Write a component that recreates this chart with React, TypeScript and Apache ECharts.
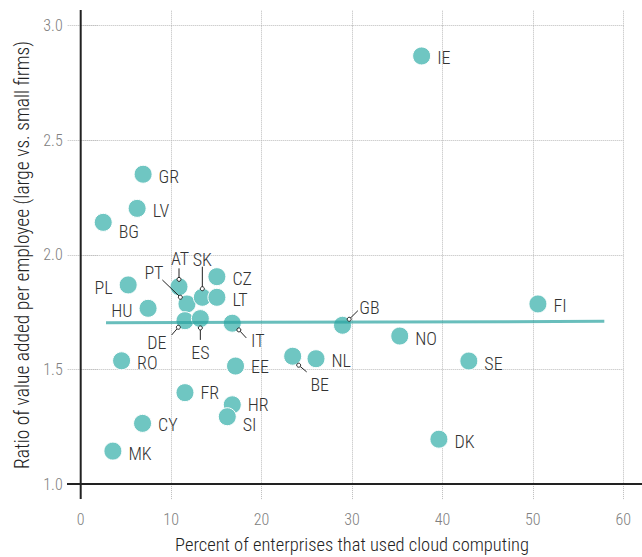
import React, { useEffect, useRef } from "react";
import * as echarts from "echarts";

const countries = ["IE","GR","LV","BG","PL","HU","AT","PT","SK","CZ","LT","DE","ES","IT","RO","EE","FR","HR","SI","CY","MK","GB","NO","BE","NL","SE","FI","DK"];
const cloudShare = [37.7,6.9,6.24,2.49,5.25,7.45,10.87,11.75,13.45,15.06,15.06,11.53,13.23,16.76,4.52,17.12,11.53,16.76,16.21,6.84,3.56,28.95,35.28,23.44,26.02,42.92,50.56,39.61];
const valueRatio = [2.868,2.352,2.203,2.142,1.869,1.767,1.861,1.786,1.815,1.905,1.815,1.713,1.722,1.702,1.538,1.515,1.399,1.346,1.294,1.265,1.144,1.693,1.646,1.558,1.547,1.537,1.786,1.196];
const trendX = [2.8, 57.9];
const trendY = [1.704, 1.71];
const xTicks = [0, 10, 20, 30, 40, 50, 60];
const yTicks = [1.0, 1.5, 2.0, 2.5, 3.0];

// label placement (styling): label offset and leader line [cx, cy, ex, ey]
const leaderLabels: Record<string, { off: number[]; line: number[] }> = {
  AT: { off: [1, -28.4], line: [0, -7.4, 0, -18.4] },
  SK: { off: [0, -38], line: [0, -8.6, 0, -30.6] },
  PT: { off: [-33, -31], line: [-6.6, -6.7, -24.6, -24] },
  DE: { off: [-28, 22], line: [-6.6, 6.6, -13.3, 14.3] },
  ES: { off: [0, 34], line: [0, 9.3, 0, 21.3] },
  IT: { off: [25.6, 17.4], line: [6.6, 6.7, 14, 14.7] },
  GB: { off: [27, -18], line: [6.7, -6, 15.4, -14.6] },
  BE: { off: [27, 28], line: [6, 9, 14, 15.7] },
};
// labels placed left of the point, and extra vertical shifts
const leftLabels = ["PL", "HU"];
const labelDy: Record<string, number> = { BG: 9, SI: 8, HR: 0, FR: 0, EE: 0.5, CY: 1 };

const FONT = "'Roboto Condensed', Roboto, sans-serif";

export default function App() {
  const ref = useRef<HTMLDivElement>(null);
  useEffect(() => {
    if (!ref.current) return;
    const chart = echarts.init(ref.current, undefined, { renderer: "svg" });
    const pointData = countries.map((c, i) => {
      const item: any = { name: c, value: [cloudShare[i], valueRatio[i]] };
      const ll = leaderLabels[c];
      if (ll) {
        item.label = { position: "inside", offset: ll.off, distance: 0 };
      } else if (leftLabels.includes(c)) {
        item.label = { position: "left", offset: [0, 2.5] };
      } else if (labelDy[c] !== undefined) {
        item.label = { offset: [0, labelDy[c]] };
      }
      return item;
    });
    const leaderData = countries
      .map((c, i) => ({ name: c, value: [cloudShare[i], valueRatio[i]] }))
      .filter((d) => leaderLabels[d.name]);

    const gridLeft = 80.7;
    const gridTop = 25.7;
    const gridRight = 18.7;
    const gridBottom = 72.9;
    const W = 642, H = 557;
    const axisBase = H - gridBottom;
    const dotted = { color: "#bbb", type: "dotted", width: 1 };

    const option: any = {
      animation: false,
      textStyle: { fontFamily: FONT, fontWeight: 300 },
      grid: { left: gridLeft, right: gridRight, top: gridTop, bottom: gridBottom, containLabel: false, outerBoundsMode: "none" },
      xAxis: [
        {
          type: "value",
          position: "bottom",
          min: xTicks[0],
          max: xTicks[xTicks.length - 1],
          interval: 10,
          name: "Percent of enterprises that used cloud computing",
          nameLocation: "middle",
          nameGap: 51,
          nameTextStyle: { fontSize: 18.5, color: "#222", fontFamily: FONT, fontWeight: 300 },
          axisLine: { show: false },
          axisTick: { show: true, length: 15, lineStyle: dotted },
          axisLabel: { color: "#808080", fontSize: 16, margin: 27, fontFamily: FONT, fontWeight: 300 },
          splitLine: { show: true, lineStyle: dotted },
        },
        {
          type: "value",
          position: "top",
          min: xTicks[0],
          max: xTicks[xTicks.length - 1],
          interval: 10,
          axisLine: { show: false },
          axisTick: { show: true, length: 16, lineStyle: dotted },
          axisLabel: { show: false },
          splitLine: { show: false },
        },
      ],
      yAxis: [
        {
          type: "value",
          position: "left",
          min: yTicks[0],
          max: yTicks[yTicks.length - 1],
          interval: 0.5,
          name: "Ratio of value added per employee (large vs. small firms)",
          nameLocation: "middle",
          nameGap: 38,
          nameTextStyle: { fontSize: 19.5, color: "#222", fontFamily: FONT, fontWeight: 300 },
          axisLine: { show: false },
          axisTick: { show: true, length: 13, lineStyle: dotted },
          axisLabel: { color: "#808080", fontSize: 16, margin: 18, fontFamily: FONT, fontWeight: 300, formatter: (v: number) => v.toFixed(1) },
          splitLine: { show: true, lineStyle: dotted },
        },
        {
          type: "value",
          position: "right",
          min: yTicks[0],
          max: yTicks[yTicks.length - 1],
          interval: 0.5,
          axisLine: { show: false },
          axisTick: { show: true, length: 18, lineStyle: dotted },
          axisLabel: { show: false },
          splitLine: { show: false },
        },
      ],
      graphic: [
        { type: "line", shape: { x1: gridLeft, y1: 10, x2: gridLeft, y2: 499 }, style: { stroke: "#222", lineWidth: 2 }, z: 10 },
        { type: "line", shape: { x1: 67, y1: axisBase, x2: W, y2: axisBase }, style: { stroke: "#222", lineWidth: 2 }, z: 10 },
      ],
      series: [
        {
          type: "scatter",
          data: pointData,
          symbolSize: 18,
          itemStyle: { color: "#6fc6c2", borderColor: "#fff", borderWidth: 1, opacity: 1 },
          label: {
            show: true,
            position: "right",
            distance: 6,
            offset: [0, 2],
            formatter: (p: any) => p.name,
            color: "#333",
            fontSize: 18,
            fontFamily: FONT,
            fontWeight: 300,
          },
          z: 2,
        },
        {
          type: "line",
          data: trendX.map((x, i) => [x, trendY[i]]),
          symbol: "none",
          lineStyle: { color: "rgba(42,163,159,0.7)", width: 3 },
          silent: true,
          z: 3,
        },
        {
          type: "custom",
          data: leaderData,
          z: 4,
          renderItem: (params: any, api: any) => {
            const name = leaderData[params.dataIndex].name;
            const g = leaderLabels[name].line;
            const p = api.coord([api.value(0), api.value(1)]);
            return {
              type: "group",
              children: [
                { type: "line", shape: { x1: p[0] + g[0], y1: p[1] + g[1], x2: p[0] + g[2], y2: p[1] + g[3] }, style: { stroke: "#222", lineWidth: 1 } },
                { type: "circle", shape: { cx: p[0] + g[0], cy: p[1] + g[1], r: 2 }, style: { fill: "#fff", stroke: "#222", lineWidth: 1 } },
              ],
            };
          },
        },
      ],
    };
    chart.setOption(option);
    return () => chart.dispose();
  }, []);
  return <div ref={ref} style={{ width: 642, height: 557, position: "absolute", left: 0, top: 0 }} />;
}
